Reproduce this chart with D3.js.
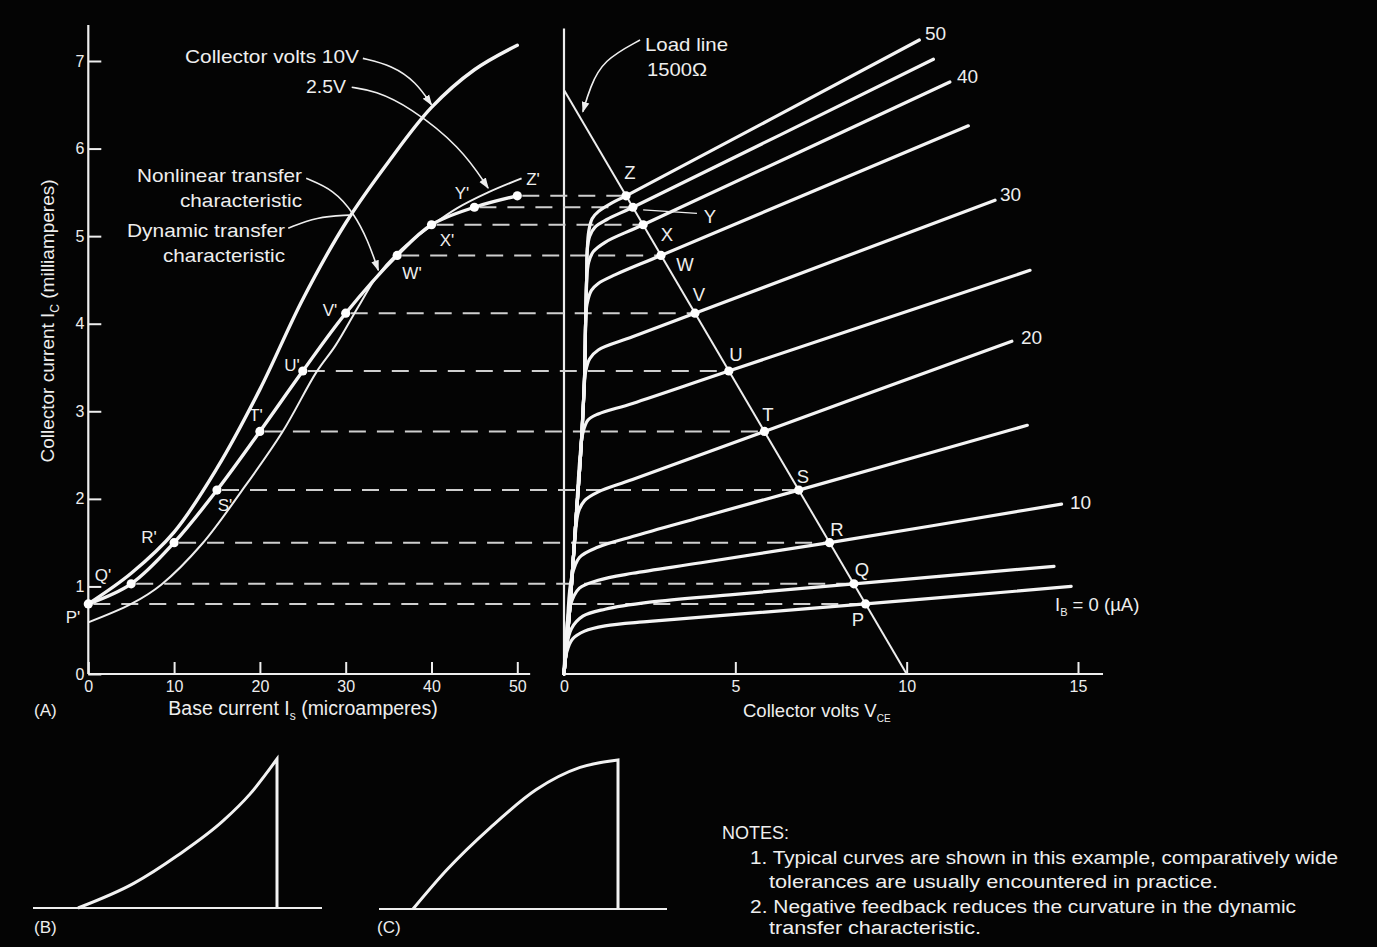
<!DOCTYPE html>
<html>
<head>
<meta charset="utf-8">
<script src="https://cdn.jsdelivr.net/npm/d3@7"></script>
<style>
  body { margin: 0; background: #040404; }
  svg { display: block; }
  text { font-family: "Liberation Sans", Arial, Helvetica, sans-serif; fill: #eeeeee; }
</style>
</head>
<body>
<svg id="chart"></svg>
<script>
//Tick values
const baseCurrentTicks = [0, 10, 20, 30, 40, 50];
const collectorCurrentTicks = [0, 1, 2, 3, 4, 5, 6, 7];
const collectorVoltTicks = [0, 5, 10, 15];

//Operating points along the load line (P..Z)
const opNames = ["P", "Q", "R", "S", "T", "U", "V", "W", "X", "Y", "Z"];
const opBase = [0, 5, 10, 15, 20, 25, 30, 36, 40, 45, 50];
const opIc = [0.80, 1.03, 1.50, 2.10, 2.77, 3.46, 4.12, 4.78, 5.13, 5.33, 5.46];
const opVce = [8.80, 8.46, 7.75, 6.85, 5.85, 4.81, 3.82, 2.83, 2.31, 2.01, 1.81];

//Static transfer curves (left panel)
const curve10VBase = [0, 5, 10, 15, 20, 25, 30, 35, 40, 45, 50];
const curve10VIc = [0.80, 1.15, 1.62, 2.35, 3.25, 4.28, 5.15, 5.85, 6.47, 6.90, 7.18];
const curve2p5VBase = [0, 5, 8.5, 13.3, 17.8, 22.6, 26.6, 28.8, 31.5, 33.7, 36.5, 40, 43, 46.6, 50.5];
const curve2p5VIc = [0.59, 0.80, 1.02, 1.49, 2.08, 2.76, 3.45, 3.75, 4.20, 4.55, 4.85, 5.12, 5.32, 5.50, 5.66];

//Load line 1500 ohm
const loadVce = [0, 10];
const loadIc = [6.67, 0];

//Output characteristics, one curve per base current (right panel)
const ibLevels = [0, 5, 10, 15, 20, 25, 30, 35, 40, 45, 50];
const ibVce = [
  [0, 0.08, 0.25, 0.6, 1.2, 2.5, 5, 8.8, 14.8],
  [0, 0.07, 0.22, 0.55, 1.2, 2.5, 5, 8.46, 14.3],
  [0, 0.06, 0.18, 0.45, 1, 2, 4, 7.75, 14.52],
  [0, 0.1, 0.22, 0.45, 1, 2, 4, 6.85, 13.52],
  [0, 0.18, 0.32, 0.42, 0.6, 1, 2, 5.85, 13.07],
  [0, 0.18, 0.33, 0.47, 0.55, 0.7, 1, 2, 4.81, 13.6],
  [0, 0.18, 0.33, 0.5, 0.58, 0.63, 0.75, 1, 2, 3.82, 12.58],
  [0, 0.18, 0.33, 0.5, 0.6, 0.63, 0.67, 0.8, 1, 1.5, 2.83, 11.8],
  [0, 0.18, 0.33, 0.5, 0.6, 0.63, 0.66, 0.72, 0.85, 1.2, 2.31, 11.26],
  [0, 0.18, 0.33, 0.5, 0.6, 0.63, 0.66, 0.68, 0.75, 0.9, 1.25, 2.01, 10.78],
  [0, 0.18, 0.33, 0.5, 0.6, 0.63, 0.66, 0.68, 0.72, 0.82, 1.0, 1.4, 1.81, 10.37]
];
const ibIc = [
  [0, 0.25, 0.40, 0.49, 0.55, 0.60, 0.68, 0.80, 1.00],
  [0, 0.30, 0.52, 0.66, 0.74, 0.82, 0.91, 1.03, 1.23],
  [0, 0.40, 0.78, 0.98, 1.07, 1.15, 1.27, 1.50, 1.94],
  [0, 0.60, 1.10, 1.33, 1.45, 1.57, 1.79, 2.10, 2.84],
  [0, 0.80, 1.55, 1.85, 1.98, 2.08, 2.22, 2.77, 3.80],
  [0, 0.80, 1.65, 2.50, 2.75, 2.90, 2.97, 3.09, 3.46, 4.61],
  [0, 0.80, 1.65, 2.60, 3.20, 3.45, 3.60, 3.70, 3.85, 4.12, 5.41],
  [0, 0.80, 1.65, 2.60, 3.40, 4.00, 4.22, 4.38, 4.46, 4.56, 4.78, 6.26],
  [0, 0.80, 1.65, 2.60, 3.40, 4.00, 4.50, 4.70, 4.82, 4.93, 5.13, 6.76],
  [0, 0.80, 1.65, 2.60, 3.40, 4.00, 4.50, 4.85, 5.00, 5.10, 5.19, 5.33, 7.02],
  [0, 0.80, 1.65, 2.60, 3.40, 4.00, 4.50, 4.85, 5.05, 5.20, 5.28, 5.38, 5.46, 7.24]
];

//Output waveforms (B) and (C), time and amplitude as fractions
const waveBTime = [0, 0.28, 0.5, 0.73, 0.865, 1];
const waveBAmp = [0, 0.165, 0.352, 0.586, 0.766, 1];
const waveCTime = [0, 0.163, 0.38, 0.6, 0.815, 1];
const waveCAmp = [0, 0.26, 0.55, 0.80, 0.95, 1];

const W = 1377, H = 947;
const ink = "#eeeeee";

const svg = d3.select("#chart").attr("width", W).attr("height", H);
svg.append("rect").attr("width", W).attr("height", H).attr("fill", "#040404");

svg.append("defs").append("marker")
  .attr("id", "arrow")
  .attr("viewBox", "0 0 10 10")
  .attr("refX", 9).attr("refY", 5)
  .attr("markerUnits", "userSpaceOnUse")
  .attr("markerWidth", 11).attr("markerHeight", 11)
  .attr("orient", "auto")
  .append("path").attr("d", "M0,1.5 L10,5 L0,8.5 Z").attr("fill", ink);

//Scales (both panels share the collector current scale)
const xL = d3.scaleLinear().domain([0, 50]).range([88.3, 517.3]);
const yI = d3.scaleLinear().domain([0, 7]).range([674, 61]);
const xV = d3.scaleLinear().domain([0, 15]).range([564, 1078]);

const leftLine = d3.line().x(d => xL(d[0])).y(d => yI(d[1])).curve(d3.curveCatmullRom.alpha(0.5));
const rightLine = d3.line().x(d => xV(d[0])).y(d => yI(d[1])).curve(d3.curveCatmullRom.alpha(0.5));

function styleAxis(g) {
  g.select(".domain").remove();
  g.attr("color", ink)
    .attr("font-size", 16)
    .attr("font-family", '"Liberation Sans", Arial, sans-serif');
  g.selectAll(".tick line").attr("stroke-width", 2);
}

//Axes: left panel
svg.append("g")
  .attr("transform", "translate(" + xL(0) + ",0)")
  .call(d3.axisLeft(yI).tickValues(collectorCurrentTicks).tickFormat(d3.format("d"))
    .tickSizeInner(-13).tickSizeOuter(0).tickPadding(4))
  .call(styleAxis);

svg.append("g")
  .attr("transform", "translate(0," + yI(0) + ")")
  .call(d3.axisBottom(xL).tickValues(baseCurrentTicks).tickFormat(d3.format("d"))
    .tickSizeInner(-12).tickSizeOuter(0).tickPadding(7))
  .call(styleAxis);

//Axes: right panel
svg.append("g")
  .attr("transform", "translate(0," + yI(0) + ")")
  .call(d3.axisBottom(xV).tickValues(collectorVoltTicks).tickFormat(d3.format("d"))
    .tickSizeInner(-12).tickSizeOuter(0).tickPadding(7))
  .call(styleAxis);

//Axis lines
const axisLines = [
  [xL(0), yI(0), xL(0), yI(7.41)],
  [xL(0), yI(0), xL(51.5), yI(0)],
  [xV(0), yI(0), xV(0), yI(7.37)],
  [xV(0), yI(0), xV(15.73), yI(0)]
];
svg.selectAll(".axisline").data(axisLines).enter().append("line")
  .attr("x1", d => d[0]).attr("y1", d => d[1]).attr("x2", d => d[2]).attr("y2", d => d[3])
  .attr("stroke", ink).attr("stroke-width", 2.2);

//Dashed projection lines
svg.selectAll(".proj").data(opNames).enter().append("line")
  .attr("x1", (d, i) => xL(opBase[i]) + 5)
  .attr("x2", (d, i) => xV(opVce[i]))
  .attr("y1", (d, i) => yI(opIc[i]))
  .attr("y2", (d, i) => yI(opIc[i]))
  .attr("stroke", "#cfcfcf").attr("stroke-width", 2)
  .attr("stroke-dasharray", "17 11");

//Load line
svg.append("path")
  .attr("d", rightLine(d3.zip(loadVce, loadIc)))
  .attr("fill", "none").attr("stroke", ink).attr("stroke-width", 2);

//Output characteristic curves
svg.selectAll(".ib").data(ibLevels).enter().append("path")
  .attr("d", (d, i) => rightLine(d3.zip(ibVce[i], ibIc[i])))
  .attr("fill", "none").attr("stroke", "#f4f4f4").attr("stroke-width", 3.2)
  .attr("stroke-linecap", "round");

//Transfer curves
svg.append("path")
  .attr("d", leftLine(d3.zip(curve2p5VBase, curve2p5VIc)))
  .attr("fill", "none").attr("stroke", ink).attr("stroke-width", 2);
svg.append("path")
  .attr("d", leftLine(d3.zip(curve10VBase, curve10VIc)))
  .attr("fill", "none").attr("stroke", "#f4f4f4").attr("stroke-width", 3.4).attr("stroke-linecap", "round");
svg.append("path")
  .attr("d", leftLine(d3.zip(opBase, opIc)))
  .attr("fill", "none").attr("stroke", "#f4f4f4").attr("stroke-width", 3.4).attr("stroke-linecap", "round");

//Dots
svg.selectAll(".dotL").data(opNames).enter().append("circle")
  .attr("cx", (d, i) => xL(opBase[i])).attr("cy", (d, i) => yI(opIc[i]))
  .attr("r", 4.6).attr("fill", "#ffffff");
svg.selectAll(".dotR").data(opNames).enter().append("circle")
  .attr("cx", (d, i) => xV(opVce[i])).attr("cy", (d, i) => yI(opIc[i]))
  .attr("r", 4.6).attr("fill", "#ffffff");

//Leader lines (in data units of each panel)
function leader(line, pts, arrow, w) {
  const p = svg.append("path")
    .attr("d", line.curve(d3.curveBasis)(pts))
    .attr("fill", "none").attr("stroke", ink).attr("stroke-width", w || 1.6);
  if (arrow) p.attr("marker-end", "url(#arrow)");
}
const leftLead = d3.line().x(d => xL(d[0])).y(d => yI(d[1]));
const rightLead = d3.line().x(d => xV(d[0])).y(d => yI(d[1]));
leader(leftLead, [[32.0, 7.03], [35.4, 6.95], [38.2, 6.76], [40.0, 6.50]], true);
leader(leftLead, [[30.7, 6.70], [33.4, 6.66], [37.4, 6.48], [43.4, 6.02], [46.6, 5.55]], true);
leader(leftLead, [[25.4, 5.66], [28.6, 5.53], [30.97, 5.26], [32.6, 4.95], [33.8, 4.61]], true);
leader(leftLead, [[23.3, 5.09], [26.6, 5.22], [30.4, 5.24]], false);
leader(rightLead, [[2.22, 7.24], [1.14, 7.01], [0.76, 6.70], [0.55, 6.42]], true);
leader(rightLead, [[2.31, 5.30], [3.88, 5.26]], false, 1.4);

//Text helper
function txt(x, y, s, size, anchor, len) {
  const t = svg.append("text").attr("x", x).attr("y", y)
    .attr("font-size", size).attr("text-anchor", anchor || "start").text(s);
  if (len) t.attr("textLength", len).attr("lengthAdjust", "spacingAndGlyphs");
  return t;
}

//Left panel annotations
txt(185, 63, "Collector volts 10V", 19, "start", 174);
txt(306, 93, "2.5V", 19, "start", 40);
txt(137, 182, "Nonlinear transfer", 19, "start", 165);
txt(180, 207, "characteristic", 19, "start", 122);
txt(127, 237, "Dynamic transfer", 19, "start", 158);
txt(163, 262, "characteristic", 19, "start", 122);

//Point labels
const leftLabelPos = [[73, 617], [103, 575], [149, 537], [225, 505], [256, 415], [292, 365],
  [330, 310], [412, 273], [447, 240], [462, 193], [533, 179]];
const rightLabelPos = [[858, 620], [862, 570], [837, 530], [803, 477], [768, 415], [736, 355],
  [699, 295], [685, 265], [667, 235], [710, 217], [630, 173]];
opNames.forEach((n, i) => {
  txt(leftLabelPos[i][0], leftLabelPos[i][1], n + "'", 17, "middle").attr("dy", "0.35em");
  txt(rightLabelPos[i][0], rightLabelPos[i][1], n, 18.5, "middle").attr("dy", "0.35em");
});

//Curve labels on the right panel
txt(925, 40, "50", 19);
txt(957, 83, "40", 19);
txt(1000, 201, "30", 19);
txt(1021, 344, "20", 19);
txt(1070, 509, "10", 19);
const ib0 = txt(1055, 611, "I", 18.5);
ib0.append("tspan").attr("font-size", 11).attr("dy", 5).text("B");
ib0.append("tspan").attr("dy", -5).text(" = 0 (\u00B5A)");

txt(645, 51, "Load line", 19, "start", 83);
txt(647, 76, "1500\u03A9", 19, "start", 60);

//Axis titles
const yTitle = svg.append("text")
  .attr("transform", "translate(54,321) rotate(-90)")
  .attr("text-anchor", "middle").attr("font-size", 19)
  .text("Collector current I");
yTitle.append("tspan").attr("font-size", 12).attr("dy", 5).text("C");
yTitle.append("tspan").attr("dy", -5).text(" (milliamperes)");

const xTitleL = txt(303, 715, "Base current I", 19.5, "middle");
xTitleL.append("tspan").attr("font-size", 12).attr("dy", 5).text("s");
xTitleL.append("tspan").attr("dy", -5).text(" (microamperes)");

const xTitleR = txt(743, 717, "Collector volts V", 18.5);
xTitleR.append("tspan").attr("font-size", 10).attr("dy", 5).text("CE");

txt(34, 716, "(A)", 17);

//Waveforms (B) and (C)
const tB = d3.scaleLinear().domain([0, 1]).range([78, 277]);
const aB = d3.scaleLinear().domain([0, 1]).range([908, 759]);
const tC = d3.scaleLinear().domain([0, 1]).range([413, 618]);
const aC = d3.scaleLinear().domain([0, 1]).range([909, 760]);

function wave(ts, as, tS, aS, x0, x1) {
  svg.append("line").attr("x1", x0).attr("x2", x1).attr("y1", aS(0)).attr("y2", aS(0))
    .attr("stroke", ink).attr("stroke-width", 2.2);
  const pts = d3.zip(ts, as);
  svg.append("path")
    .attr("d", d3.line().x(d => tS(d[0])).y(d => aS(d[1])).curve(d3.curveMonotoneX)(pts) +
      "L" + tS(1) + "," + aS(0))
    .attr("fill", "none").attr("stroke", "#f2f2f2").attr("stroke-width", 3);
}
wave(waveBTime, waveBAmp, tB, aB, 33, 322);
wave(waveCTime, waveCAmp, tC, aC, 379, 667);
txt(34, 933, "(B)", 17);
txt(377, 933, "(C)", 17);

//Notes
txt(722, 839, "NOTES:", 18);
txt(750, 864, "1. Typical curves are shown in this example, comparatively wide", 18, "start", 588);
txt(769, 888, "tolerances are usually encountered in practice.", 18, "start", 449);
txt(750, 913, "2. Negative feedback reduces the curvature in the dynamic", 18, "start", 546);
txt(769, 934, "transfer characteristic.", 18, "start", 212);
</script>
</body>
</html>
